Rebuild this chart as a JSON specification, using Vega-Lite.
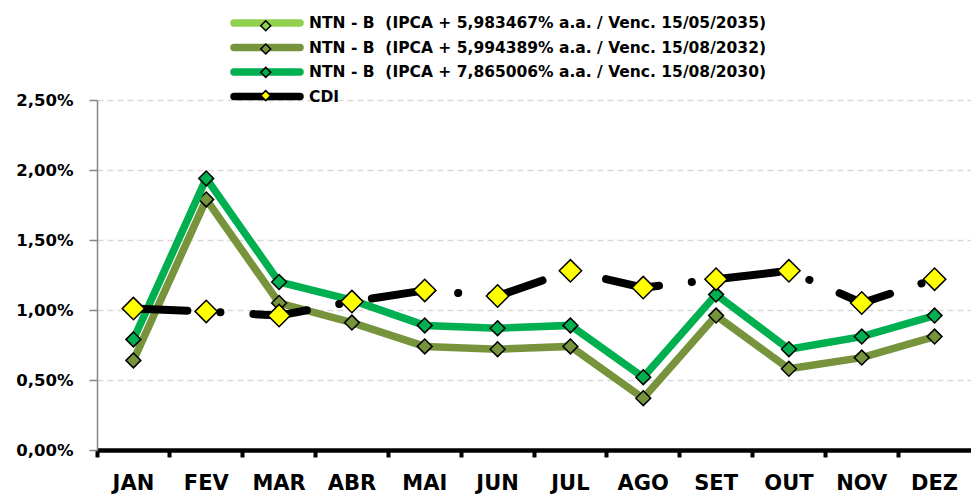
{
  "$schema": "https://vega.github.io/schema/vega-lite/v6.json",
  "autosize": {"type": "none"},
  "width": 874,
  "height": 350,
  "padding": {"left": 97, "top": 100, "right": 0, "bottom": 45},
  "background": "white",
  "config": {
    "view": {"stroke": null},
    "font": "DejaVu Sans"
  },
  "data": {
    "values": [
      {"mes": "JAN", "serie": "NTN - B  (IPCA + 5,994389% a.a. / Venc. 15/08/2032)", "valor": 0.0064},
      {"mes": "FEV", "serie": "NTN - B  (IPCA + 5,994389% a.a. / Venc. 15/08/2032)", "valor": 0.0179},
      {"mes": "MAR", "serie": "NTN - B  (IPCA + 5,994389% a.a. / Venc. 15/08/2032)", "valor": 0.0105},
      {"mes": "ABR", "serie": "NTN - B  (IPCA + 5,994389% a.a. / Venc. 15/08/2032)", "valor": 0.0091},
      {"mes": "MAI", "serie": "NTN - B  (IPCA + 5,994389% a.a. / Venc. 15/08/2032)", "valor": 0.0074},
      {"mes": "JUN", "serie": "NTN - B  (IPCA + 5,994389% a.a. / Venc. 15/08/2032)", "valor": 0.0072},
      {"mes": "JUL", "serie": "NTN - B  (IPCA + 5,994389% a.a. / Venc. 15/08/2032)", "valor": 0.0074},
      {"mes": "AGO", "serie": "NTN - B  (IPCA + 5,994389% a.a. / Venc. 15/08/2032)", "valor": 0.0037},
      {"mes": "SET", "serie": "NTN - B  (IPCA + 5,994389% a.a. / Venc. 15/08/2032)", "valor": 0.0096},
      {"mes": "OUT", "serie": "NTN - B  (IPCA + 5,994389% a.a. / Venc. 15/08/2032)", "valor": 0.0058},
      {"mes": "NOV", "serie": "NTN - B  (IPCA + 5,994389% a.a. / Venc. 15/08/2032)", "valor": 0.0066},
      {"mes": "DEZ", "serie": "NTN - B  (IPCA + 5,994389% a.a. / Venc. 15/08/2032)", "valor": 0.0081},
      {"mes": "JAN", "serie": "NTN - B  (IPCA + 7,865006% a.a. / Venc. 15/08/2030)", "valor": 0.0079},
      {"mes": "FEV", "serie": "NTN - B  (IPCA + 7,865006% a.a. / Venc. 15/08/2030)", "valor": 0.0194},
      {"mes": "MAR", "serie": "NTN - B  (IPCA + 7,865006% a.a. / Venc. 15/08/2030)", "valor": 0.0120},
      {"mes": "ABR", "serie": "NTN - B  (IPCA + 7,865006% a.a. / Venc. 15/08/2030)", "valor": 0.0107},
      {"mes": "MAI", "serie": "NTN - B  (IPCA + 7,865006% a.a. / Venc. 15/08/2030)", "valor": 0.0089},
      {"mes": "JUN", "serie": "NTN - B  (IPCA + 7,865006% a.a. / Venc. 15/08/2030)", "valor": 0.0087},
      {"mes": "JUL", "serie": "NTN - B  (IPCA + 7,865006% a.a. / Venc. 15/08/2030)", "valor": 0.0089},
      {"mes": "AGO", "serie": "NTN - B  (IPCA + 7,865006% a.a. / Venc. 15/08/2030)", "valor": 0.0052},
      {"mes": "SET", "serie": "NTN - B  (IPCA + 7,865006% a.a. / Venc. 15/08/2030)", "valor": 0.0111},
      {"mes": "OUT", "serie": "NTN - B  (IPCA + 7,865006% a.a. / Venc. 15/08/2030)", "valor": 0.0072},
      {"mes": "NOV", "serie": "NTN - B  (IPCA + 7,865006% a.a. / Venc. 15/08/2030)", "valor": 0.0081},
      {"mes": "DEZ", "serie": "NTN - B  (IPCA + 7,865006% a.a. / Venc. 15/08/2030)", "valor": 0.0096},
      {"mes": "JAN", "serie": "CDI", "valor": 0.0101},
      {"mes": "FEV", "serie": "CDI", "valor": 0.0099},
      {"mes": "MAR", "serie": "CDI", "valor": 0.0096},
      {"mes": "ABR", "serie": "CDI", "valor": 0.0106},
      {"mes": "MAI", "serie": "CDI", "valor": 0.0114},
      {"mes": "JUN", "serie": "CDI", "valor": 0.0110},
      {"mes": "JUL", "serie": "CDI", "valor": 0.0128},
      {"mes": "AGO", "serie": "CDI", "valor": 0.0116},
      {"mes": "SET", "serie": "CDI", "valor": 0.0122},
      {"mes": "OUT", "serie": "CDI", "valor": 0.0128},
      {"mes": "NOV", "serie": "CDI", "valor": 0.0105},
      {"mes": "DEZ", "serie": "CDI", "valor": 0.0122}
    ]
  },
  "encoding": {
    "x": {
      "field": "mes", "type": "ordinal", "bandPosition": 0.5,
      "sort": ["JAN","FEV","MAR","ABR","MAI","JUN","JUL","AGO","SET","OUT","NOV","DEZ"],
      "scale": {"type": "band", "paddingInner": 0, "paddingOuter": 0},
      "axis": {
        "title": null, "bandPosition": 0, "labelAngle": 0,
        "labelFont": "DejaVu Sans", "labelFontSize": 21, "labelFontWeight": "bold", "labelColor": "black", "labelPadding": 15,
        "domainColor": "black", "domainWidth": 4.5, "tickColor": "black", "tickWidth": 4, "tickSize": 7,
        "grid": false
      }
    },
    "y": {
      "field": "valor", "type": "quantitative",
      "scale": {"domain": [0, 0.025], "nice": false},
      "axis": {
        "title": null, "values": [0, 0.005, 0.01, 0.015, 0.02, 0.025],
        "labelExpr": "replace(format(datum.value, '.2%'), '.', ',')",
        "labelFont": "DejaVu Sans", "labelFontSize": 16.5, "labelFontWeight": "bold", "labelColor": "black", "labelPadding": 16,
        "domainColor": "#868686", "domainWidth": 1.5, "tickColor": "#868686", "tickSize": 8, "tickWidth": 1.5,
        "gridColor": "#D9D9D9", "gridDash": [6, 4], "gridWidth": 1.5
      }
    }
  },
  "layer": [
    {
      "transform": [{"filter": "datum.serie === 'NTN - B  (IPCA + 5,994389% a.a. / Venc. 15/08/2032)'"}],
      "mark": {"type": "line", "strokeWidth": 7.5},
      "encoding": {
        "color": {
          "field": "serie", "type": "nominal",
          "scale": {
            "domain": ["NTN - B  (IPCA + 5,983467% a.a. / Venc. 15/05/2035)", "NTN - B  (IPCA + 5,994389% a.a. / Venc. 15/08/2032)", "NTN - B  (IPCA + 7,865006% a.a. / Venc. 15/08/2030)", "CDI"],
            "range": ["#92D050", "#77933C", "#00B050", "#000000"]
          },
          "legend": {
            "title": null, "orient": "none", "legendX": 161, "legendY": -86,
            "symbolType": "M-6.6,0L6.6,0", "symbolSize": 100, "symbolStrokeWidth": 7.5,
            "labelFont": "DejaVu Sans", "labelFontSize": 15.5, "labelFontWeight": "bold", "labelColor": "black",
            "labelExpr": "replace(datum.label, '  ', ' \u00a0')",
            "rowPadding": -5.5, "labelLimit": 700, "labelOffset": 33, "zindex": 1,
            "encode": {"symbols": {"update": {"strokeCap": {"value": "round"}}}}
          }
        }
      }
    },
    {
      "transform": [{"filter": "datum.serie === 'NTN - B  (IPCA + 5,994389% a.a. / Venc. 15/08/2032)'"}],
      "mark": {"type": "point", "shape": "diamond", "filled": true, "stroke": "black", "strokeWidth": 1.5, "size": 220, "opacity": 1},
      "encoding": {
        "fill": {
          "field": "serie", "type": "nominal",
          "scale": {
            "domain": ["NTN - B  (IPCA + 5,983467% a.a. / Venc. 15/05/2035)", "NTN - B  (IPCA + 5,994389% a.a. / Venc. 15/08/2032)", "NTN - B  (IPCA + 7,865006% a.a. / Venc. 15/08/2030)", "CDI", "—"],
            "range": ["#92D050", "#77933C", "#00B050", "#FFFF00", "#FFFFFF"]
          },
          "legend": {
            "title": null, "orient": "none", "legendX": 161, "legendY": -82,
            "values": ["NTN - B  (IPCA + 5,983467% a.a. / Venc. 15/05/2035)", "NTN - B  (IPCA + 5,994389% a.a. / Venc. 15/08/2032)", "NTN - B  (IPCA + 7,865006% a.a. / Venc. 15/08/2030)", "CDI"],
            "symbolType": "diamond", "symbolSize": 100, "symbolStrokeColor": "black", "symbolStrokeWidth": 1.5,
            "labelExpr": "''", "labelFontSize": 15.5,
            "rowPadding": 5.3, "labelLimit": 700, "labelOffset": 0, "zindex": 2
          }
        }
      }
    },
    {
      "transform": [{"filter": "datum.serie === 'NTN - B  (IPCA + 7,865006% a.a. / Venc. 15/08/2030)'"}],
      "mark": {"type": "line", "strokeWidth": 7.5},
      "encoding": {"color": {"field": "serie", "type": "nominal"}}
    },
    {
      "transform": [{"filter": "datum.serie === 'NTN - B  (IPCA + 7,865006% a.a. / Venc. 15/08/2030)'"}],
      "mark": {"type": "point", "shape": "diamond", "filled": true, "stroke": "black", "strokeWidth": 1.5, "size": 220, "opacity": 1},
      "encoding": {"fill": {"field": "serie", "type": "nominal"}}
    },
    {
      "transform": [{"filter": "datum.serie === 'CDI'"}],
      "mark": {"type": "line", "strokeWidth": 8, "strokeDash": [54, 33, 0.1, 33], "strokeCap": "round"},
      "encoding": {"color": {"field": "serie", "type": "nominal"}}
    },
    {
      "transform": [{"filter": "datum.serie === 'CDI'"}],
      "mark": {"type": "point", "shape": "diamond", "filled": true, "stroke": "black", "strokeWidth": 1.5, "size": 500, "opacity": 1},
      "encoding": {"fill": {"field": "serie", "type": "nominal"}}
    }
  ]
}
